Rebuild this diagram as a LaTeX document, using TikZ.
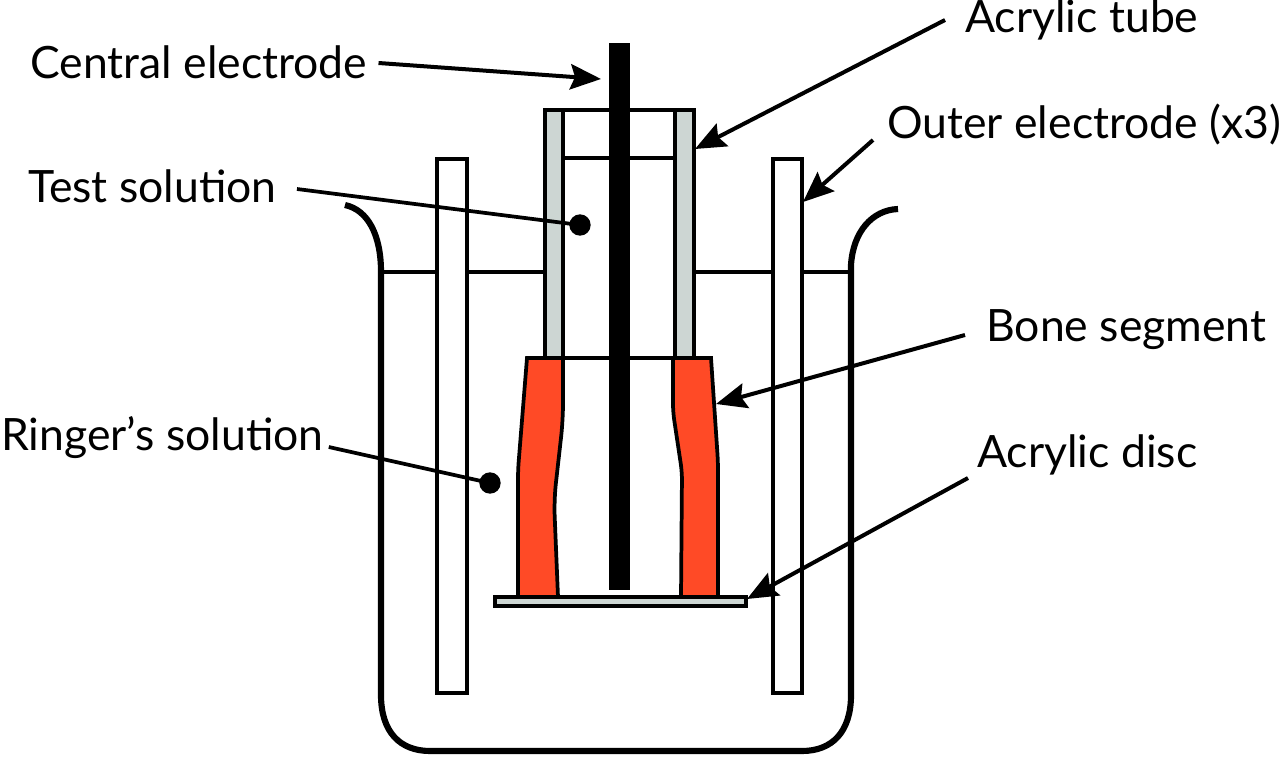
\documentclass[tikz,border=0pt]{standalone}
\usepackage{fontspec}
\setmainfont{Lato}
\usetikzlibrary{arrows.meta,calc}
\definecolor{wallgray}{HTML}{CDD6D3}
\definecolor{boneorange}{HTML}{FF4A26}
\tikzset{
  x=0.75pt,y=-0.75pt,
  outline/.style={draw=black,line width=2.8pt,line join=miter},
  thinline/.style={draw=black,line width=2.6pt},
  beaker/.style={draw=black,line width=4.6pt},
  wall/.style={outline,fill=wallgray},
  bone/.style={outline,fill=boneorange},
  lab/.style={inner sep=0pt,anchor=west,font=\fontsize{33.4}{36}\selectfont},
  dot/.style={circle,fill=black,inner sep=0pt,minimum size=16pt},
  leader/.style={draw=black,line width=3pt,-{Stealth[length=23pt,width=19pt,inset=3.5pt]}},
  plainleader/.style={draw=black,line width=2.8pt}
}
\begin{document}
\begin{tikzpicture}
\useasboundingbox (0,0) rectangle (1280,756);
% liquid level
\draw[thinline] (381,272) -- (851,272);
% beaker
\draw[beaker] (345,205) .. controls (368,210) and (381,235) .. (381,272) -- (381,695) .. controls (381,732) and (400,751) .. (430,751) -- (802,751) .. controls (832,751) and (851,732) .. (851,695) -- (851,265) .. controls (853,232) and (872,210) .. (898,209);
% outer electrodes
\draw[outline,fill=white] (437,159) rectangle (467,693);
\draw[outline,fill=white] (773,159) rectangle (802,693);
% tube
\draw[outline,fill=white] (545,110) rectangle (694,358);
\draw[thinline] (563,158) -- (675,158);
\draw[wall] (545,110) rectangle (563,358);
\draw[wall] (675,110) rectangle (694,358);
% bone segment
\draw[bone] (527,358) [rounded corners=6pt] -- (518,470) [sharp corners] -- (518,597) -- (558,597) [rounded corners=12pt] -- (554,500) -- (563,420) [sharp corners] -- (563,358) -- cycle;
\draw[bone] (673,358) [rounded corners=6pt] -- (673,412) -- (682,472) [sharp corners] -- (681,597) -- (718,597) [rounded corners=6pt] -- (718,462) [sharp corners] -- (711,358) -- cycle;
% disc
\draw[wall] (495,597) rectangle (746,606);
% central electrode
\fill[black] (609,43) rectangle (630,590);
% labels
\node[lab] (cen) at (30,62) {Central electrode};
\node[lab] (tst) at (28,186) {Test solution};
\node[lab] (rin) at (1,438) {Ringer’s solution};
\node[lab] (tube) at (965,20) {Acrylic tube};
\node[lab] (out) at (887,124) {Outer electrode (x3)};
\node[lab] (bon) at (986,330) {Bone segment};
\node[lab] (dis) at (977,455) {Acrylic disc};
% dots
\node[dot] (d1) at (580,225) {};
\node[dot] (d2) at (490,483) {};
% targets
\coordinate (tcen) at (601,79);
\coordinate (ttube) at (695,149);
\coordinate (tout) at (803,202);
\coordinate (tbon) at (716,404);
\coordinate (tdis) at (747,599);
% leaders
\draw[leader] ($(cen.east)+(11,1)$) -- (tcen);
\draw[leader] ($(tube.west)+(-20,0)$) -- (ttube);
\draw[leader] ($(out.west)+(-14,16)$) -- (tout);
\draw[leader] ($(bon.west)+(-21,5)$) -- (tbon);
\draw[leader] ($(dis.west)+(-9,23)$) -- (tdis);
\draw[plainleader] ($(tst.east)+(20,3)$) -- (d1.center);
\draw[plainleader] ($(rin.east)+(5,9)$) -- (d2.center);
\end{tikzpicture}
\end{document}
